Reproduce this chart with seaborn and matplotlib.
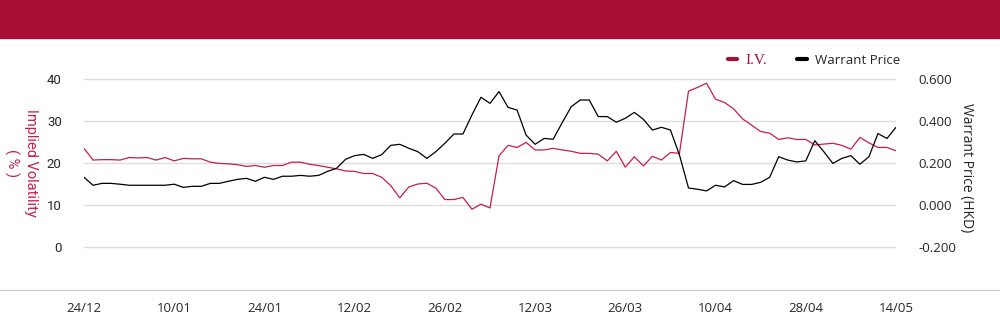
"""
Implied volatility vs warrant price, twin-axis line chart.
"""
import numpy as np
import pandas as pd
import matplotlib
matplotlib.use("Agg")
import matplotlib.pyplot as plt
from matplotlib.lines import Line2D
from matplotlib.patches import Rectangle
import seaborn as sns

sns.set_style("white")
plt.rcParams["font.family"] = ["Open Sans", "DejaVu Sans"]

# ── data ─────────────────────────────────────────────────────────────────────
DATE_LABELS = ["24/12", "10/01", "24/01", "12/02", "26/02",
               "12/03", "26/03", "10/04", "28/04", "14/05"]

IV = [23.5, 20.7, 20.8, 20.8, 20.7, 21.3, 21.2, 21.3, 20.7, 21.3,
      20.5, 21.1, 21.0, 21.0, 20.2, 19.9, 19.8, 19.6, 19.2, 19.4,
      19.0, 19.4, 19.4, 20.2, 20.2, 19.7, 19.4, 19.0, 18.6, 18.1,
      18.0, 17.5, 17.5, 16.6, 14.6, 11.7, 14.3, 15.0, 15.2, 14.0,
      11.3, 11.3, 11.8, 9.0, 10.2, 9.3, 21.7, 24.2, 23.7, 24.9,
      23.1, 23.1, 23.5, 23.1, 22.8, 22.3, 22.3, 22.1, 20.5, 22.8,
      19.0, 21.5, 19.3, 21.6, 20.7, 22.5, 22.3, 37.1, 38.0, 39.0,
      35.2, 34.4, 32.9, 30.5, 29.0, 27.5, 27.1, 25.6, 26.0, 25.6,
      25.6, 24.3, 24.5, 24.7, 24.2, 23.3, 26.1, 24.8, 23.7, 23.7,
      22.9]

PRICE = [0.132, 0.094, 0.103, 0.103, 0.099, 0.094, 0.094, 0.094, 0.094, 0.094,
         0.099, 0.084, 0.089, 0.089, 0.103, 0.103, 0.113, 0.122, 0.127, 0.113,
         0.132, 0.122, 0.137, 0.137, 0.141, 0.137, 0.141, 0.160, 0.175, 0.218,
         0.235, 0.241, 0.222, 0.240, 0.284, 0.289, 0.270, 0.254, 0.222, 0.254,
         0.294, 0.338, 0.338, 0.429, 0.513, 0.484, 0.540, 0.465, 0.452, 0.333,
         0.289, 0.317, 0.313, 0.392, 0.468, 0.500, 0.500, 0.421, 0.421, 0.394,
         0.413, 0.441, 0.408, 0.357, 0.370, 0.357, 0.238, 0.081, 0.075, 0.067,
         0.094, 0.086, 0.116, 0.098, 0.098, 0.108, 0.132, 0.230, 0.214, 0.205,
         0.210, 0.306, 0.254, 0.198, 0.222, 0.235, 0.194, 0.230, 0.340, 0.317,
         0.370]

df = pd.DataFrame({"day": np.arange(len(IV)), "iv": IV, "price": PRICE})

RED = "#c41f4a"
BANNER = "#a60e35"

# ── figure ───────────────────────────────────────────────────────────────────
fig = plt.figure(figsize=(10, 3.24), dpi=100)
fig.patches.append(Rectangle((0, 1 - 38 / 324), 1, 38 / 324, transform=fig.transFigure,
                             color=BANNER, zorder=0))
fig.lines.append(Line2D([0, 1], [1 - 289.5 / 324] * 2, transform=fig.transFigure,
                        color="#cccccc", lw=1))

ax1 = fig.add_axes([0.084, 1 - 289 / 324, 0.812, 252 / 324])
ax2 = ax1.twinx()

sns.lineplot(data=df, x="day", y="iv", ax=ax1, color=RED, lw=0.9)
sns.lineplot(data=df, x="day", y="price", ax=ax2, color="black", lw=0.9)

ax1.set_xlim(0, len(IV) - 1)
ax1.set_ylim(-10, 50)
ax2.set_ylim(-0.4, 0.8)

ax1.set_yticks([0, 10, 20, 30, 40])
ax1.set_yticklabels(["0", "10", "20", "30", "40"], fontsize=9.5, family="Roboto")
ax2.set_yticks([-0.2, 0.0, 0.2, 0.4, 0.6])
ax2.set_yticklabels(["-0.200", "0.000", "0.200", "0.400", "0.600"], fontsize=9.5)
ax1.set_xticks(np.arange(0, len(IV), 10))
ax1.set_xticklabels(DATE_LABELS, fontsize=9.5)

ax1.grid(True, axis="y", color="#dddddd", lw=1)
ax1.grid(False, axis="x")
ax2.grid(False)
ax1.tick_params(axis="y", length=0, pad=16)
ax2.tick_params(axis="y", length=0, pad=16)
ax1.tick_params(axis="x", length=0, pad=9)
for ax in (ax1, ax2):
    for s in ax.spines.values():
        s.set_visible(False)
    ax.patch.set_visible(False)

ax1.set_xlabel("")
ax1.set_ylabel("")
ax2.set_ylabel("")
fig.text(0.021, 1 - 163 / 324, "Implied Volatility\n( % )", rotation=-90, color=RED,
         fontsize=10.5, family="Roboto", ha="center", va="center", ma="center",
         linespacing=1.35)
fig.text(0.966, 1 - 168 / 324, "Warrant Price (HKD)", rotation=-90, fontsize=10,
         ha="center", va="center")

handles = [Line2D([], [], color=BANNER, lw=3), Line2D([], [], color="black", lw=3)]
leg = fig.legend(handles, ["I.V.", "Warrant Price"], loc="center",
                 bbox_to_anchor=(0.814, 1 - 60 / 324), ncol=2, frameon=False,
                 handlelength=0.7, handletextpad=0.6, columnspacing=2.3, fontsize=9.5)
leg.get_texts()[0].set_color(BANNER)
leg.get_texts()[0].set_family("Liberation Serif")
leg.get_texts()[0].set_fontsize(11)

fig.savefig("out.png", dpi=100)
